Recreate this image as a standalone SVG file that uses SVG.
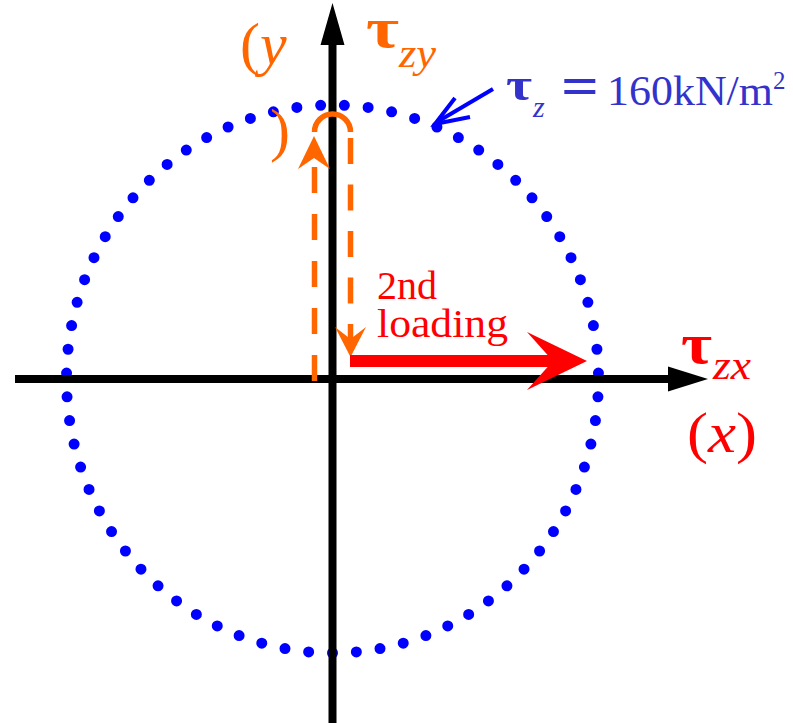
<svg xmlns="http://www.w3.org/2000/svg" width="793" height="723" viewBox="0 0 793 723">
<style>
.ax{stroke:#000;stroke-width:8;fill:none}
.axh{fill:#000}
.dots{fill:none;stroke:#0000ff;stroke-width:11;stroke-linecap:round;stroke-dasharray:0 1;stroke-dashoffset:0.25}
.or{stroke:#ff6600;stroke-width:5.5;fill:none}
.orf{fill:#ff6600}
text{font-family:'Liberation Serif','DejaVu Serif','Times New Roman',serif}
.it{font-style:italic}
.tau{font-weight:bold}
</style>
<rect width="793" height="723" fill="#fff"/>
<g id="circle">
<ellipse class="dots" cx="332.5" cy="379" rx="266" ry="274" pathLength="71"/>
</g>
<g id="axes">
<line class="ax" x1="15" y1="379" x2="670" y2="379"/>
<polygon class="axh" points="668,366.5 708,379 668,391.5"/>
<line class="ax" x1="332.5" y1="723" x2="332.5" y2="43"/>
<polygon class="axh" points="320.5,45 332.5,3 344.5,45"/>
</g>
<g id="connectors">
<g id="first-loading">
<path class="or" d="M314.5 381 V160" stroke-dasharray="26 21"/>
<polygon class="orf" points="314,136 330,169 314,158 298,169"/>
<path class="or" d="M314.5 132 A18 18 0 0 1 350.5 132"/>
<path class="or" d="M350.5 138 V340" stroke-dasharray="26 20.5"/>
<polygon class="orf" points="350.5,357 335,327 350.5,339 366,327"/>
</g>
<g id="second-loading">
<polygon fill="#ff0000" points="350,355 547.6,355 527,332 587,361 527,390 547.6,367 350,367"/>
</g>
<g id="pointer">
<line x1="493" y1="89" x2="437" y2="122" stroke="#0000ff" stroke-width="4"/>
<polyline points="455,98 435,124 470,117" fill="none" stroke="#0000ff" stroke-width="4" stroke-linejoin="miter"/>
</g>
</g>
<g id="label-tzy" fill="#ff6600">
<text x="366" y="47" font-size="58" class="tau" textLength="33" lengthAdjust="spacingAndGlyphs">τ</text>
<text x="399" y="67" font-size="40" class="it" textLength="37" lengthAdjust="spacingAndGlyphs">zy</text>
<text x="240" y="64" font-size="60">(<tspan class="it">y</tspan></text>
<text x="270" y="150" font-size="60">)</text>
</g>
<g id="label-tzx" fill="#ff0000">
<text x="681" y="363" font-size="58" class="tau" textLength="31" lengthAdjust="spacingAndGlyphs">τ</text>
<text x="713" y="379" font-size="40" class="it" textLength="38" lengthAdjust="spacingAndGlyphs">zx</text>
<text x="687" y="452" font-size="58" textLength="70" lengthAdjust="spacingAndGlyphs">(<tspan class="it">x</tspan>)</text>
</g>
<g id="label-2nd" fill="#ff0000" font-size="40">
<text x="377" y="299" textLength="60" lengthAdjust="spacingAndGlyphs">2nd</text>
<text x="377" y="337" textLength="131" lengthAdjust="spacingAndGlyphs">loading</text>
</g>
<g id="label-tz" fill="#3333cc">
<text x="506" y="100" font-size="46" class="tau" textLength="26" lengthAdjust="spacingAndGlyphs">τ</text>
<text x="533" y="117" font-size="30" class="it">z</text>
<text x="561" y="105" font-size="58" font-weight="bold" textLength="38" lengthAdjust="spacingAndGlyphs">=</text>
<text x="607" y="105" font-size="42" textLength="166" lengthAdjust="spacingAndGlyphs">160kN/m</text>
<text x="773" y="89" font-size="25">2</text>
</g>
</svg>
